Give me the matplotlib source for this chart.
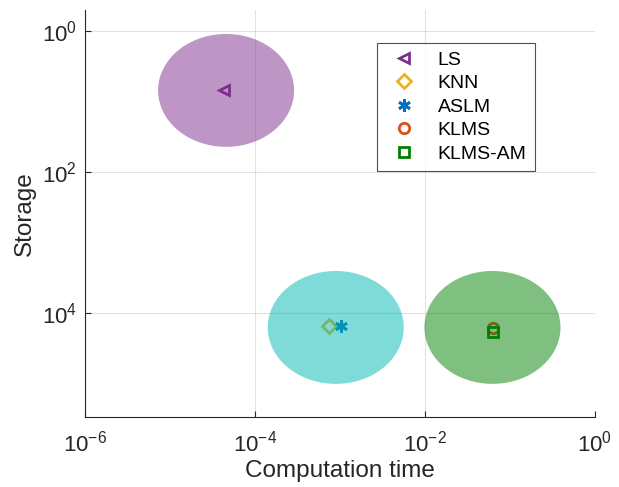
import numpy as np
import matplotlib
matplotlib.use('Agg')
import matplotlib.pyplot as plt

plt.rcParams['font.family'] = ['Liberation Sans', 'DejaVu Sans']

# Methods, their computation time (s) and storage
methods = ['LS', 'KNN', 'ASLM', 'KLMS', 'KLMS-AM']
comp_time = [4.3e-5, 7.4e-4, 1.02e-3, 6.3e-2, 6.3e-2]
storage = [6.9, 1.5e4, 1.5e4, 1.63e4, 1.86e4]
markers = ['<', 'D', (6, 2, 0), 'o', 's']
colors = ['#7E2F8E', '#EDB120', '#0072BD', '#D95319', '#008000']

# Shaded regions (centres in log10 units, radius in decades)
region_x = [-4.34, -3.05, -1.206]
region_y = [0.84, 4.2, 4.2]
region_r = 0.8
region_colors = ['#7E2F8E', '#00B8B3', '#008000']

fig = plt.figure(figsize=(6.19, 4.87), dpi=100)
ax = fig.add_axes([0.1373, 0.1437, 0.8239, 0.8358])

sizes = [7.5, 7, 9, 7.5, 7.5]
for name, x, y, m, c, ms in zip(methods, comp_time, storage, markers, colors, sizes):
    ax.plot(x, y, linestyle='none', marker=m, markersize=ms, markeredgewidth=2,
            markerfacecolor='none', markeredgecolor=c, label=name, zorder=2)

# Ellipses in log space, drawn over the markers
t = np.linspace(0, 2 * np.pi, 200)
for cx, cy, c in zip(region_x, region_y, region_colors):
    ax.fill(10 ** (cx + region_r * np.cos(t)), 10 ** (cy + region_r * np.sin(t)),
            color=c, alpha=0.5, linewidth=0, zorder=3)

ax.set_xscale('log')
ax.set_yscale('log')
ax.set_xlim(1e-6, 1e0)
ax.set_ylim(10 ** 5.47, 10 ** -0.3)
ax.set_xticks([1e-6, 1e-4, 1e-2, 1e0])
ax.set_yticks([1e0, 1e2, 1e4])
ax.minorticks_off()

ax.grid(True, color='#262626', alpha=0.13, linewidth=0.8, zorder=4)
ax.set_axisbelow(False)

for s in ['top', 'right']:
    ax.spines[s].set_visible(False)
for s in ['left', 'bottom']:
    ax.spines[s].set_color('#262626')
    ax.spines[s].set_linewidth(0.8)
ax.tick_params(direction='in', length=4, width=0.8, color='#262626',
               labelsize=16, labelcolor='#262626')
ax.tick_params(axis='x', pad=10)
ax.tick_params(axis='y', pad=6)

ax.set_xlabel('Computation time', fontsize=17.5, color='#262626', labelpad=2)
ax.set_ylabel('Storage', fontsize=17.5, color='#262626', labelpad=4)

leg = ax.legend(loc='upper left', bbox_to_anchor=(0.5725, 0.919), borderaxespad=0,
                fontsize=14, frameon=True, fancybox=False, edgecolor='#262626',
                labelspacing=0.3, handletextpad=0.8, handlelength=1.9,
                borderpad=0.42, labelcolor='black')
leg.get_frame().set_linewidth(0.8)
leg.set_zorder(10)

fig.savefig('out.png', dpi=100)
